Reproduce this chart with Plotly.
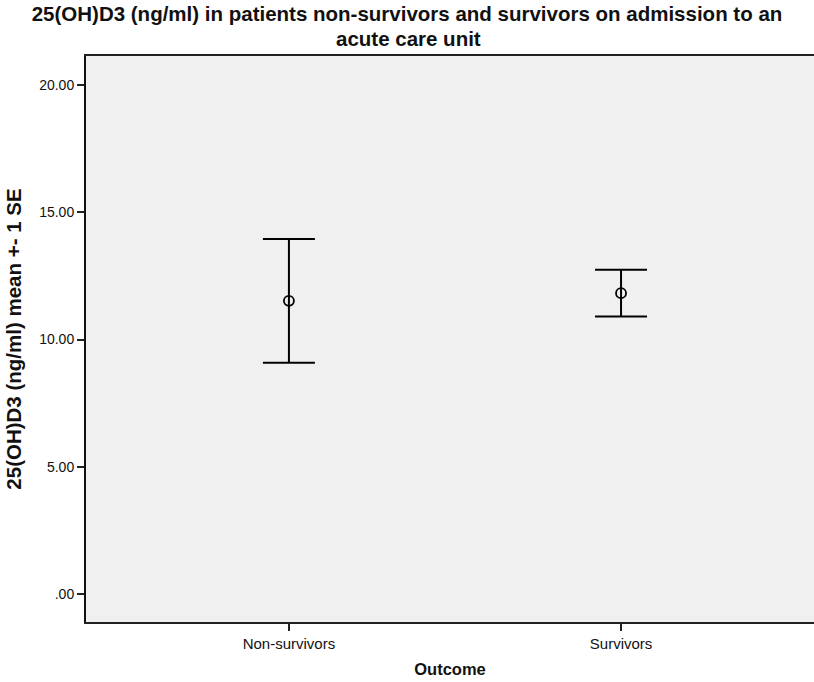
import plotly.graph_objects as go

categories = ["Non-survivors", "Survivors"]
means = [11.52, 11.82]
se = [2.43, 0.92]
y_ticks = [0, 5, 10, 15, 20]
y_tick_labels = [".00", "5.00", "10.00", "15.00", "20.00"]
title_line1 = "25(OH)D3 (ng/ml) in patients non-survivors and survivors on admission to an"
title_line2 = "acute care unit"

x_pos = list(range(len(categories)))

fig = go.Figure()
fig.add_trace(go.Scatter(
    x=x_pos, y=means, mode="markers",
    marker=dict(symbol="circle-open", size=10, color="black", line=dict(width=1.8, color="black")),
    error_y=dict(type="data", array=se, visible=True, color="black", thickness=2, width=26),
    showlegend=False,
))

fig.update_layout(
    width=814, height=682,
    margin=dict(l=86, r=0, t=56, b=60),
    paper_bgcolor="white", plot_bgcolor="#f0f0f0",
    font=dict(family="Liberation Sans, Arial, sans-serif", color="black"),
    title=dict(
        text="<b>" + title_line1 + "</b>",
        x=0.5, xanchor="center", xref="container",
        y=1 - 14 / 682, yanchor="middle", yref="container",
        font=dict(size=20.5, color="#111"),
    ),
    annotations=[dict(
        text="<b>" + title_line2 + "</b>", showarrow=False,
        xref="paper", x=(408 - 86) / 728, xanchor="center",
        yref="paper", y=(622 - 38) / 566, yanchor="middle",
        font=dict(size=20.5, color="#111"), borderpad=0,
    )],
)
fig.update_xaxes(
    range=[-0.611, 1.581], tickvals=x_pos, ticktext=categories,
    showgrid=False, zeroline=False, showline=True, linecolor="#222", linewidth=2,
    mirror=True, ticks="outside", ticklen=7, tickwidth=2, tickcolor="#222",
    tickfont=dict(size=15, color="#111"),
    title=dict(text="<b>Outcome</b>", font=dict(size=16.5, color="#111"), standoff=12),
)
fig.update_yaxes(
    range=[-1.10, 21.14], tickvals=y_ticks, ticktext=y_tick_labels,
    showgrid=False, zeroline=False, showline=True, linecolor="#111", linewidth=2,
    mirror=False, ticks="outside", ticklen=7, tickwidth=2, tickcolor="#222",
    tickfont=dict(size=14, color="#111"),
    title=dict(text="<b>25(OH)D3 (ng/ml) mean +- 1 SE</b>", font=dict(size=20.5, color="#111"), standoff=12),
)

fig.write_html(
    "out.html",
    config={"displayModeBar": False},
    post_script="document.body.style.margin='0';document.body.style.overflow='hidden';",
)
